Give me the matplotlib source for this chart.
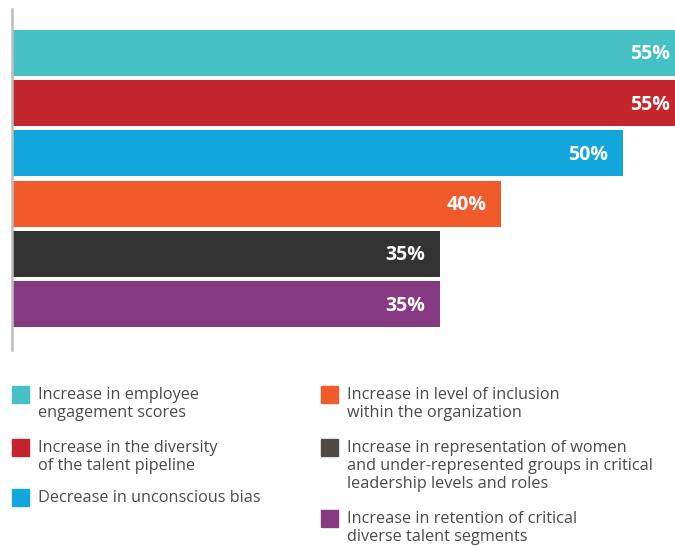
import matplotlib.pyplot as plt
from matplotlib.patches import Rectangle

categories = [
    'Increase in employee\nengagement scores',
    'Increase in the diversity\nof the talent pipeline',
    'Decrease in unconscious bias',
    'Increase in level of inclusion\nwithin the organization',
    'Increase in representation of women\nand under-represented groups in critical\nleadership levels and roles',
    'Increase in retention of critical\ndiverse talent segments',
]
values = [55, 55, 50, 40, 35, 35]
colors = ['#45C1C6', '#C4262E', '#12A6DC', '#F15A2B', '#333333', '#863A83']
legend_colors = ['#45C1C6', '#C4262E', '#12A6DC', '#F15A2B', '#4D4A48', '#863A83']

W, H = 675, 546
fig = plt.figure(figsize=(W / 100, H / 100), dpi=100)
ax = fig.add_axes([12 / W, 1 - 350 / H, 1 - 12 / W, (350 - 9) / H])

y = list(range(len(values)))
bars = ax.barh(y, values, height=0.92, color=colors)
ax.set_xlim(0, 54.25)
ax.set_ylim(5.916, -0.876)

for rect, v in zip(bars, values):
    ax.text(v - 1.2, rect.get_y() + rect.get_height() / 2 + 0.03, f'{v}%',
            ha='right', va='center', color='white', fontsize=14,
            fontweight='bold', family='Open Sans')

for s in ['top', 'right', 'bottom']:
    ax.spines[s].set_visible(False)
ax.spines['left'].set_color('#BDBDBD')
ax.spines['left'].set_linewidth(1.8)
ax.set_xticks([])
ax.set_yticks([])

# legend, laid out by hand in two columns (pixel positions)
leg_pos = [(12, 386), (12, 439), (12, 489), (321, 386), (321, 439), (321, 510)]
for (px, py), lab, c in zip(leg_pos, categories, legend_colors):
    fig.patches.append(Rectangle((px / W, 1 - (py + 17) / H), 17 / W, 17 / H,
                                 transform=fig.transFigure, color=c))
    fig.text((px + 26) / W, 1 - (py + 1) / H, lab, ha='left', va='top',
             fontsize=11.7, color='#4A4A4A', family='Open Sans', linespacing=1.16)

fig.savefig('out.png', dpi=100)
